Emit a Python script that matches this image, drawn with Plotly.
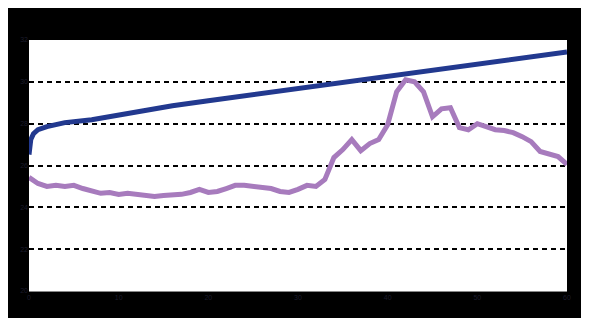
import plotly.graph_objects as go

# Blue series (smooth rising)
blue_x = [0, 0.2, 0.5, 1, 2, 4, 7, 10, 16, 20, 30, 40, 50, 60]
blue_y = [26.52, 27.24, 27.52, 27.71, 27.86, 28.05, 28.19, 28.43, 28.86, 29.10, 29.67, 30.24, 30.81, 31.43]

# Purple series (noisy)
purple_x = list(range(0, 61))
purple_y = [25.43, 25.14, 25.00, 25.05, 25.00, 25.05, 24.90, 24.76, 24.67, 24.71,
            24.62, 24.67, 24.62, 24.62, 24.52, 24.57, 24.57, 24.62, 24.71, 24.86,
            24.71, 24.76, 24.90, 25.05, 25.05, 25.00, 24.95, 24.90, 24.76, 24.71,
            24.86, 25.05, 25.00, 25.33, 26.38, 26.76, 27.24, 26.71, 27.05, 27.24,
            27.95, 29.52, 30.10, 30.00, 29.52, 28.33, 28.71, 28.76, 27.81, 27.71,
            28.00, 27.86, 27.71, 27.67, 27.57, 27.38, 27.14, 26.67, 26.52, 26.43,
            26.05]

x_ticks = [0, 10, 20, 30, 40, 50, 60]
y_ticks = [20, 22, 24, 26, 28, 30, 32]

fig = go.Figure()
fig.add_trace(go.Scatter(x=blue_x, y=blue_y, mode="lines",
                         line=dict(color="#22398f", width=5), showlegend=False))
fig.add_trace(go.Scatter(x=purple_x, y=purple_y, mode="lines",
                         line=dict(color="#a77bbd", width=5), showlegend=False))

fig.update_layout(
    width=589, height=318,
    margin=dict(l=19, r=30, t=32, b=35),
    paper_bgcolor="black", plot_bgcolor="white",
    font=dict(family="Liberation Sans", size=7, color="#1c1c2c"),
    xaxis=dict(range=[0, 60], tickvals=x_ticks, showgrid=False, zeroline=False,
               showline=True, linecolor="#888888", linewidth=1, ticks="", ticklen=0),
    yaxis=dict(range=[20, 32], tickvals=y_ticks, showgrid=True, gridcolor="black",
               griddash="5px,4px", gridwidth=1.8, zeroline=False, showline=False,
               ticks="", ticklen=0),
)

fig.write_html(
    "out.html",
    post_script="document.documentElement.style.overflow='hidden';"
                "document.body.style.overflow='hidden';",
)
